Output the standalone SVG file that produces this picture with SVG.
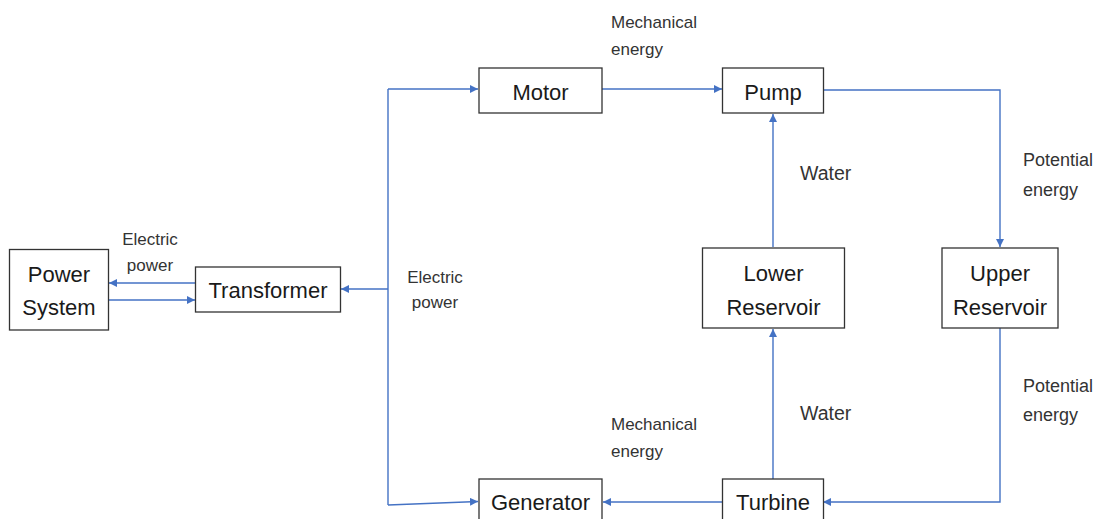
<svg xmlns="http://www.w3.org/2000/svg" width="1104" height="519" viewBox="0 0 1104 519">
<style>
.box{fill:#fff;stroke:#333;stroke-width:1.3}
.nt{font-family:"Liberation Sans",Arial,sans-serif;font-size:22px;fill:#1a1a1a;text-anchor:middle}
.lb{font-family:"Liberation Sans",Arial,sans-serif;font-size:17px;fill:#333}
.lb2{font-family:"Liberation Sans",Arial,sans-serif;font-size:18px;fill:#333}
.c{text-anchor:middle}
.w{font-size:19.5px}
.ln{fill:none;stroke:#4472C4;stroke-width:1.4;marker-end:url(#ah)}
.ln0{fill:none;stroke:#4472C4;stroke-width:1.4}
</style>
<defs>
<marker id="ah" viewBox="0 0 10 10" refX="10" refY="5" markerWidth="8" markerHeight="8" markerUnits="userSpaceOnUse" orient="auto">
<path d="M0,0 L10,5 L0,10 z" fill="#4472C4"/>
</marker>
</defs>
<rect width="1104" height="519" fill="#fff"/>
<g id="connectors">
<path class="ln" d="M195,283 H109"/>
<path class="ln" d="M109,300 H195"/>
<path class="ln" d="M388,289 H341"/>
<path class="ln0" d="M388,89 V505"/>
<path class="ln" d="M388,89 H478"/>
<path class="ln" d="M388,505 L478,501.5"/>
<path class="ln" d="M602,89 H722"/>
<path class="ln" d="M823,90 H1000 V247"/>
<path class="ln" d="M773,247 V114"/>
<path class="ln" d="M1000,328 V502 H823"/>
<path class="ln" d="M773,479 V329"/>
<path class="ln" d="M722,502 H603"/>
</g>
<g id="power-system"><rect class="box" x="9.5" y="249.5" width="99" height="80.5"/><text class="nt" x="59" y="282">Power</text><text class="nt" x="59" y="315">System</text></g>
<g id="transformer"><rect class="box" x="195.5" y="267" width="145" height="45"/><text class="nt" x="268" y="297.5">Transformer</text></g>
<g id="motor"><rect class="box" x="479" y="68" width="123" height="45"/><text class="nt" x="540.5" y="99.5">Motor</text></g>
<g id="pump"><rect class="box" x="722.5" y="68" width="101" height="45"/><text class="nt" x="773" y="99.5">Pump</text></g>
<g id="lower-reservoir"><rect class="box" x="702.5" y="248" width="142" height="80"/><text class="nt" x="773.5" y="281">Lower</text><text class="nt" x="773.5" y="314.5">Reservoir</text></g>
<g id="upper-reservoir"><rect class="box" x="942" y="248" width="116" height="80"/><text class="nt" x="1000" y="281">Upper</text><text class="nt" x="1000" y="314.5">Reservoir</text></g>
<g id="generator"><rect class="box" x="479" y="479" width="123" height="50"/><text class="nt" x="540.5" y="510">Generator</text></g>
<g id="turbine"><rect class="box" x="722.5" y="479" width="101" height="50"/><text class="nt" x="773" y="510">Turbine</text></g>
<g id="labels">
<text class="lb c" x="150" y="245">Electric</text><text class="lb c" x="150" y="270.5">power</text>
<text class="lb c" x="435" y="283">Electric</text><text class="lb c" x="435" y="308">power</text>
<text class="lb" x="611" y="28">Mechanical</text><text class="lb" x="611" y="55">energy</text>
<text class="lb" x="611" y="430">Mechanical</text><text class="lb" x="611" y="456.5">energy</text>
<text class="lb2 w" x="800" y="180">Water</text>
<text class="lb2 w" x="800" y="420">Water</text>
<text class="lb2" x="1023" y="166">Potential</text><text class="lb2" x="1023" y="195.5">energy</text>
<text class="lb2" x="1023" y="391.5">Potential</text><text class="lb2" x="1023" y="421">energy</text>
</g>
</svg>
